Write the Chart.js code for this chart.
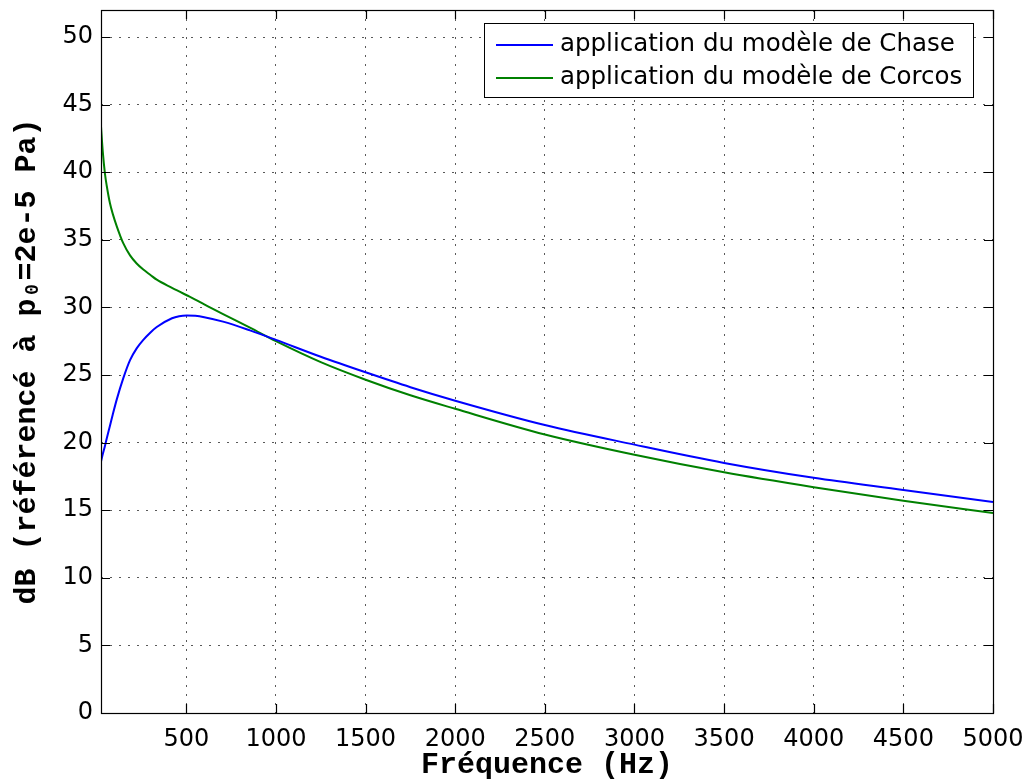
<!DOCTYPE html>
<html>
<head>
<meta charset="utf-8">
<script src="https://cdn.jsdelivr.net/npm/chart.js@4"></script>
<style>
  body { margin: 0; background: #fff; }
  #wrap { width: 1025px; height: 780px; }
</style>
</head>
<body>
<div id="wrap"><canvas id="spectrum"></canvas></div>
<script>
// frequencies (Hz)
const freq = [24, 34, 46, 56, 74, 90, 112, 148, 186, 223, 260, 300, 335, 420, 460, 502, 550, 600, 705, 855, 1000, 1250, 1500, 1750, 2000, 2500, 3000, 3500, 4000, 4500, 5000];
// dB levels
const chase = [18.6, 19.15, 19.75, 20.3, 21.25, 22.1, 23.2, 24.75, 26.1, 26.97, 27.6, 28.15, 28.55, 29.2, 29.35, 29.4, 29.38, 29.28, 28.95, 28.3, 27.6, 26.35, 25.2, 24.1, 23.1, 21.3, 19.85, 18.5, 17.4, 16.5, 15.6];
const corcos = [43.4, 41.5, 39.9, 39.0, 37.7, 36.9, 36.0, 34.75, 33.85, 33.25, 32.8, 32.4, 32.05, 31.45, 31.18, 30.9, 30.58, 30.22, 29.5, 28.5, 27.5, 25.95, 24.65, 23.5, 22.5, 20.6, 19.1, 17.8, 16.7, 15.7, 14.8];
const seriesNames = ['application du modèle de Chase', 'application du modèle de Corcos'];
const xTicks = [500, 1000, 1500, 2000, 2500, 3000, 3500, 4000, 4500, 5000];
const yTicks = [0, 5, 10, 15, 20, 25, 30, 35, 40, 45, 50];

const tickFont = { family: 'DejaVu Sans', size: 24 };
const titleFont = { family: 'Liberation Mono', size: 30, weight: 'bold', lineHeight: 1 };

// box, inward ticks on all four sides and the boxed legend, MATLAB style
const framePlugin = {
  id: 'frame',
  afterDraw(chart) {
    const { ctx, chartArea: a, scales: { x, y } } = chart;
    const tl = 9;
    ctx.save();
    ctx.strokeStyle = '#000';
    ctx.lineWidth = 1.2;
    ctx.strokeRect(a.left + 0.5, a.top + 0.5, a.right - a.left, a.bottom - a.top);
    ctx.beginPath();
    x.ticks.forEach(t => {
      const px = Math.round(x.getPixelForValue(t.value)) + 0.5;
      ctx.moveTo(px, a.bottom); ctx.lineTo(px, a.bottom - tl);
      ctx.moveTo(px, a.top); ctx.lineTo(px, a.top + tl);
    });
    y.ticks.forEach(t => {
      const py = Math.round(y.getPixelForValue(t.value)) + 0.5;
      ctx.moveTo(a.left, py); ctx.lineTo(a.left + tl, py);
      ctx.moveTo(a.right, py); ctx.lineTo(a.right - tl, py);
    });
    ctx.stroke();

    // legend
    const lx = 484, ly = 23, lw = 489, lh = 74;
    ctx.fillStyle = '#fff';
    ctx.fillRect(lx, ly, lw, lh);
    ctx.lineWidth = 1;
    ctx.strokeStyle = '#000';
    ctx.strokeRect(lx + 0.5, ly + 0.5, lw, lh);
    ctx.font = '24.5px "DejaVu Sans"';
    ctx.textBaseline = 'middle';
    chart.data.datasets.forEach((ds, i) => {
      const ry = ly + 22 + i * 33;
      ctx.strokeStyle = ds.borderColor;
      ctx.lineWidth = 2;
      ctx.beginPath();
      ctx.moveTo(lx + 12, ry); ctx.lineTo(lx + 69, ry);
      ctx.stroke();
      ctx.fillStyle = '#000';
      ctx.fillText(ds.label, lx + 76, ry);
    });
    ctx.restore();
  }
};

new Chart(document.getElementById('spectrum'), {
  type: 'line',
  data: {
    datasets: [
      {
        label: seriesNames[0],
        data: freq.map((f, i) => ({ x: f, y: chase[i] })),
        borderColor: '#0000ff',
        borderWidth: 2,
        pointRadius: 0,
        cubicInterpolationMode: 'monotone'
      },
      {
        label: seriesNames[1],
        data: freq.map((f, i) => ({ x: f, y: corcos[i] })),
        borderColor: '#008000',
        borderWidth: 2,
        pointRadius: 0,
        cubicInterpolationMode: 'monotone'
      }
    ]
  },
  options: {
    responsive: true,
    maintainAspectRatio: false,
    animation: false,
    layout: { padding: { top: 10, right: 32, left: 0, bottom: 0 } },
    plugins: { legend: { display: false }, tooltip: { enabled: false } },
    scales: {
      x: {
        type: 'linear',
        min: 24,
        max: 5000,
        afterBuildTicks: s => { s.ticks = xTicks.map(v => ({ value: v })); },
        afterFit: s => { s.height = 67; s.paddingLeft = 0; s.paddingRight = 0; },
        grid: { color: 'rgba(0,0,0,0.65)', lineWidth: 1, drawTicks: false },
        border: { display: false, dash: [2, 7] },
        ticks: { font: tickFont, color: '#000', padding: 12, maxRotation: 0, autoSkip: false, callback: v => String(v) },
        title: { display: true, text: 'Fréquence (Hz)', font: titleFont, color: '#000', padding: { top: 0, bottom: 0 } }
      },
      y: {
        min: 0,
        max: 52,
        afterBuildTicks: s => { s.ticks = yTicks.map(v => ({ value: v })); },
        afterFit: s => { s.width = 101; s.paddingTop = 0; s.paddingBottom = 0; },
        grid: { color: 'rgba(0,0,0,0.65)', lineWidth: 1, drawTicks: false },
        border: { display: false, dash: [2, 7] },
        ticks: { font: tickFont, color: '#000', padding: 8, autoSkip: false, callback: v => String(v) },
        title: { display: true, text: 'dB (référencé à p₀=2e-5 Pa)', font: titleFont, color: '#000', padding: { top: 12, bottom: 0 } }
      }
    }
  },
  plugins: [framePlugin]
});
</script>
</body>
</html>
